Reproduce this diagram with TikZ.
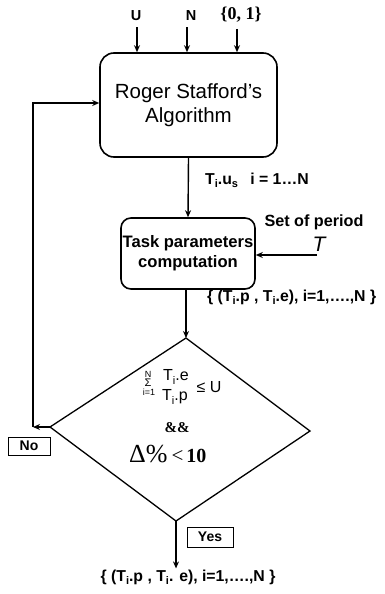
\documentclass[tikz,border=0pt]{standalone}
\usepackage{fontspec}
\setmainfont{Liberation Sans}
\newfontfamily\serifvery{Liberation Serif}
\usetikzlibrary{arrows.meta}
\newcommand\sbs[1]{\raisebox{-0.4ex}{\fontsize{11}{11}\selectfont #1}}
\tikzset{
  conn/.style={line width=1.4pt,-{Stealth[length=7pt,width=6pt]}},
  plain/.style={line width=1.4pt},
  procbox/.style={draw,line width=1.6pt,align=center,inner sep=0pt},
  lbl/.style={font=\bfseries\fontsize{15.8}{18}\selectfont,inner sep=1pt},
  tagbox/.style={draw,line width=1pt,font=\bfseries\fontsize{14}{15}\selectfont,inner sep=0pt},
  frm/.style={font=\fontsize{16}{18}\selectfont,inner sep=0pt},
  tiny/.style={font=\fontsize{9}{9}\selectfont,inner sep=0pt}
}
\begin{document}
\begin{tikzpicture}[x=1pt,y=-1pt]
\useasboundingbox (0,0) rectangle (384,594);
% boxes
\node[procbox,rounded corners=14pt,minimum width=177pt,minimum height=104pt,
      font=\fontsize{20.5}{24}\selectfont] (alg) at (188.5,105) {Roger Stafford's\\Algorithm};
\node[procbox,rounded corners=10pt,minimum width=134pt,minimum height=71pt,
      font=\bfseries\fontsize{16.6}{20}\selectfont] (task) at (188,253.5) {Task parameters\\computation};
% inputs
\node[lbl,font=\bfseries\fontsize{14.5}{16}\selectfont] (u) at (136,16) {U};
\node[lbl,font=\bfseries\fontsize{14.5}{16}\selectfont] (n) at (191,16) {N};
\node[lbl,font=\serifvery\bfseries\fontsize{18}{18}\selectfont] (b) at (241,15) {\{0, 1\}};
\draw[conn] (u.south) ++(1,5) coordinate (us) -- (us |- alg.north);
\draw[conn] (n.south) ++(-4,5) coordinate (ns) -- (ns |- alg.north);
\draw[conn] (b.south) ++(-4,5) coordinate (bs) -- (bs |- alg.north);
% alg -> task
\draw[conn] (alg.south) -- (task.north);
\node[lbl,anchor=west] (tus) at (204,180) {T\sbs{i}.u\sbs{s}\enspace\ i = 1…N};
% set of period
\node[lbl,font=\bfseries\fontsize{16.2}{18}\selectfont] (setp) at (314,222) {Set of period};
\node[font=\itshape\fontsize{21}{22}\selectfont,inner sep=0pt] (tper) at (319,244) {T};
\coordinate (tsrc) at (317,255);
\draw[conn] (tsrc) -- (task.east |- tsrc);
% diamond
\coordinate (dtop) at (186,338);
\coordinate (dleft) at (50,427);
\coordinate (dright) at (310,431);
\coordinate (dbot) at (176,521);
\draw[plain,line width=1.3pt,line join=miter] (dtop) -- (dright) -- (dbot) -- (dleft) -- cycle;
\draw[conn] (task.south -| dtop) -- (dtop);
\node[lbl,anchor=west] (set1) at (206,297) {\{ (T\sbs{i}.p , T\sbs{i}.e), i=1,….,N \}};
% formula
\node[tiny] (sumn) at (148,374) {N};
\node[inner sep=0pt,font=\fontsize{11}{11}\selectfont] (sigma) at (148,383) {Σ};
\node[tiny] (sumi) at (149,392) {i=1};
\node[frm] (num) at (176,377) {T\sbs{i}.e};
\node[frm] (den) at (175,397) {T\sbs{i}.p};
\node[frm] (leq) at (209,387) {≤ U};
\node[font=\serifvery\bfseries\fontsize{15}{16}\selectfont,inner sep=0pt] (and) at (177,428) {\&\&};
\node[anchor=base west,inner sep=0pt,font=\serifvery] (delta) at (129,462)
  {{\fontsize{26}{26}\selectfont Δ\%}\hspace{4pt}{\fontsize{21}{21}\selectfont <}\hspace{3pt}{\bfseries\fontsize{20}{20}\selectfont 10}};
% no branch
\coordinate (lc) at (33,427);
\draw[conn] (dleft) -- (lc);
\draw[conn] (lc) |- (alg.west |- 0,103);
\node[tagbox,minimum width=42pt,minimum height=18pt] (no) at (29,446) {No};
% yes branch
\node[tagbox,minimum width=46pt,minimum height=20pt] (yes) at (210,537) {Yes};
\node[lbl] (out) at (188,577) {\{ (T\sbs{i}.p , T\sbs{i}. e), i=1,….,N \}};
\draw[conn] (dbot) -- (dbot |- out.north);
\end{tikzpicture}
\end{document}
